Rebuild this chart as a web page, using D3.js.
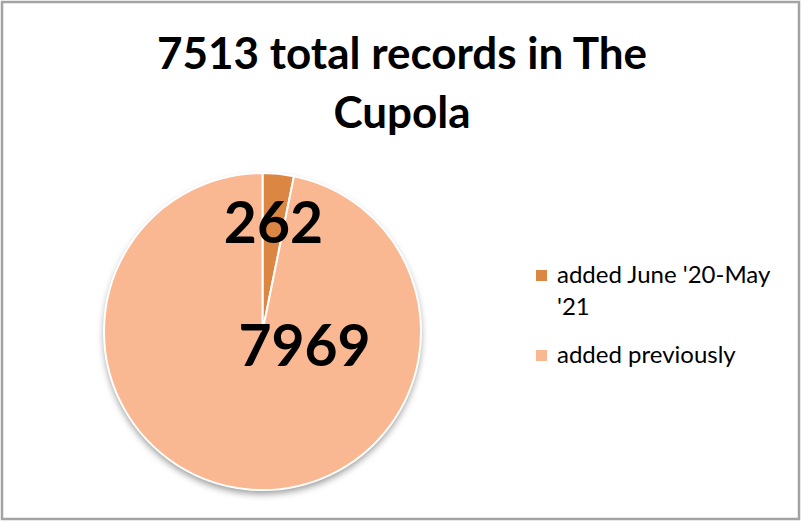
<!DOCTYPE html>
<html>
<head>
<meta charset="utf-8">
<script src="https://cdn.jsdelivr.net/npm/d3@7"></script>
<style>
  body { margin: 0; background: #fff; }
  svg { display: block; }
  text { font-family: Lato, "Open Sans", sans-serif; }
</style>
</head>
<body>
<svg id="chart" width="802" height="521"></svg>
<script>
// chart data
var categories = ["added June '20-May '21", "added previously"];
var values = [262, 7969];
var legend_lines = [["added June '20-May", "'21"], ["added previously"]];
var title_lines = ["7513 total records in The", "Cupola"];
var colors = ["#dc8644", "#f9b792"];

var svg = d3.select("#chart");

// outer frame
svg.append("rect")
  .attr("x", 2).attr("y", 2)
  .attr("width", 797).attr("height", 517)
  .attr("fill", "#fff")
  .attr("stroke", "#a3a3a3")
  .attr("stroke-width", 2.5);

// shadow under the pie
var defs = svg.append("defs");
var f = defs.append("filter").attr("id", "shadow")
  .attr("x", "-20%").attr("y", "-20%").attr("width", "140%").attr("height", "140%");
f.append("feDropShadow")
  .attr("dx", 0).attr("dy", 4)
  .attr("stdDeviation", 3.5)
  .attr("flood-color", "#000")
  .attr("flood-opacity", 0.4);

// title
svg.selectAll("text.title")
  .data(title_lines)
  .enter().append("text")
  .attr("class", "title")
  .attr("x", 402)
  .attr("y", function(d, i) { return 69 + i * 59; })
  .attr("text-anchor", "middle")
  .attr("font-weight", "bold")
  .attr("font-size", "44px")
  .attr("fill", "#000")
  .text(function(d) { return d; });

// pie
var cx = 262.5, cy = 331.5, radius = 158.5;
var pie = d3.pie().sort(null).startAngle(0).endAngle(2 * Math.PI);
var arcs = pie(values);
var arc = d3.arc().innerRadius(0).outerRadius(radius);

var g = svg.append("g").attr("transform", "translate(" + cx + "," + cy + ")");

g.append("circle")
  .attr("r", radius)
  .attr("fill", colors[1])
  .attr("filter", "url(#shadow)");

g.selectAll("path.slice")
  .data(arcs)
  .enter().append("path")
  .attr("class", "slice")
  .attr("d", arc)
  .attr("fill", function(d, i) { return colors[i]; })
  .attr("stroke", "#fff")
  .attr("stroke-width", 2)
  .attr("stroke-linejoin", "round");

// data labels
var label_arc = d3.arc().innerRadius(radius * 0.69).outerRadius(radius * 0.69);
function label_pos(d, i) {
  if (i == 0) {
    var c = label_arc.centroid(d);
    return [c[0], c[1] + 20];
  }
  // big slice label sits just right of and below the centre
  return [42, 34];
}

g.selectAll("text.value")
  .data(arcs)
  .enter().append("text")
  .attr("class", "value")
  .attr("x", function(d, i) { return label_pos(d, i)[0]; })
  .attr("y", function(d, i) { return label_pos(d, i)[1]; })
  .attr("text-anchor", "middle")
  .attr("font-weight", "bold")
  .attr("font-size", "57px")
  .attr("fill", "#000")
  .text(function(d) { return d.data; });

// legend
var legend = svg.append("g").attr("transform", "translate(536,270)");
var item_y = [0, 80];
var items = legend.selectAll("g.item")
  .data(categories)
  .enter().append("g")
  .attr("class", "item")
  .attr("transform", function(d, i) { return "translate(0," + item_y[i] + ")"; });

items.append("rect")
  .attr("width", 11).attr("height", 11)
  .attr("fill", function(d, i) { return colors[i]; });

items.each(function(d, i) {
  var t = d3.select(this).append("text")
    .attr("x", 21)
    .attr("y", 13)
    .attr("font-size", "24px")
    .attr("fill", "#000");
  legend_lines[i].forEach(function(line, j) {
    t.append("tspan")
      .attr("x", 21)
      .attr("dy", j == 0 ? 0 : 32)
      .text(line);
  });
});
</script>
</body>
</html>
